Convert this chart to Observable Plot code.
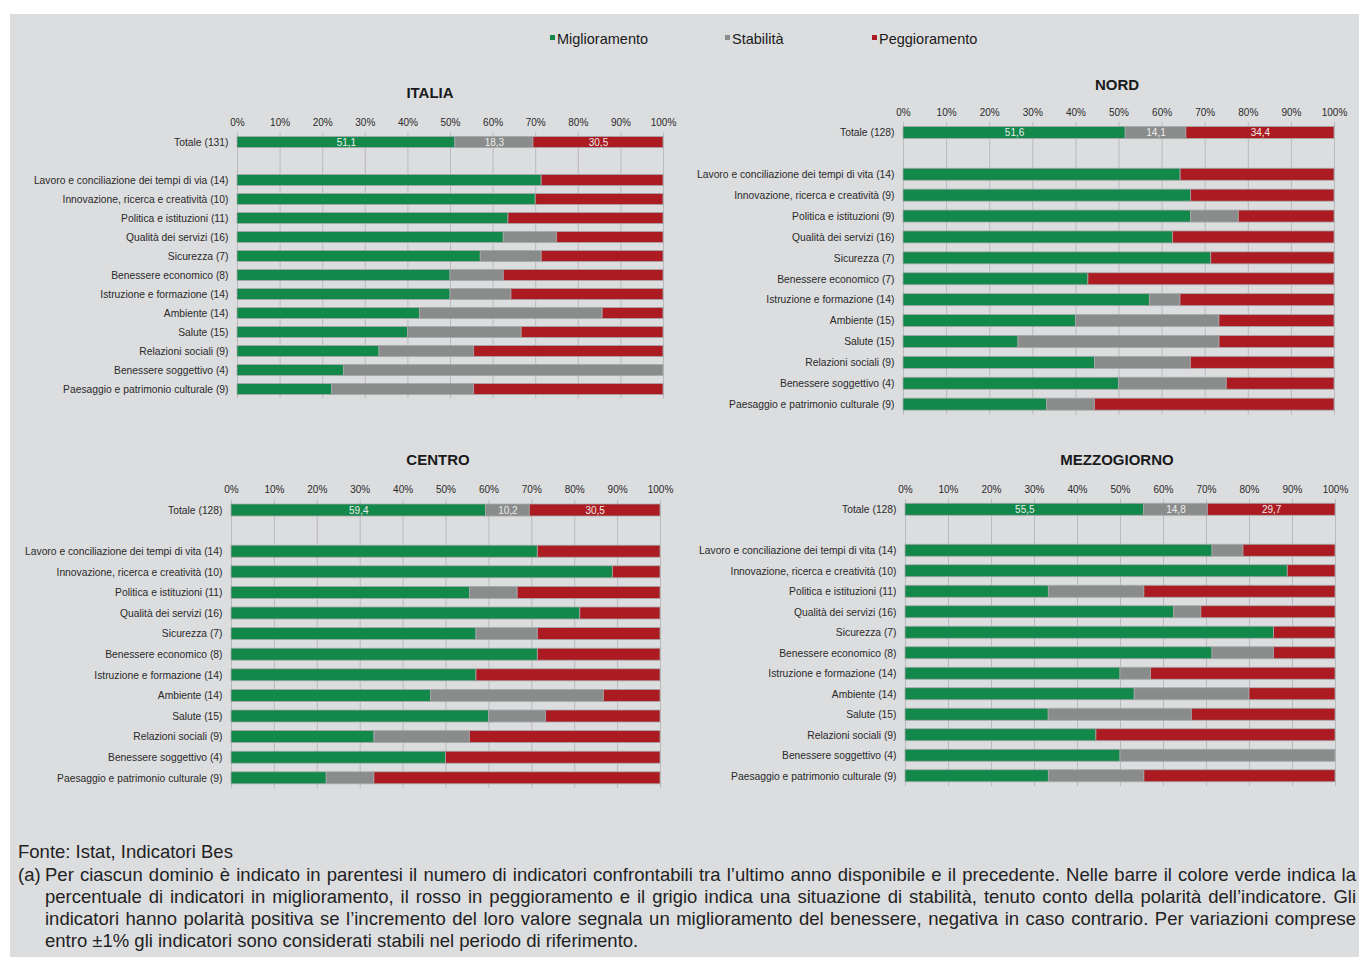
<!DOCTYPE html>
<html>
<head>
<meta charset="utf-8">
<script src="https://cdn.jsdelivr.net/npm/d3@7"></script>
<script src="https://cdn.jsdelivr.net/npm/@observablehq/plot@0.6"></script>
<style>
  html, body { margin: 0; padding: 0; background: #ffffff; }
  body { width: 1359px; height: 957px; position: relative; overflow: hidden; font-family: "Liberation Sans", Arial, sans-serif; }
  #panel { position: absolute; left: 10px; top: 14px; width: 1349px; height: 943px; background: #dcdddf; }
  .title { position: absolute; transform: translate(-50%, -50%); font-weight: bold; font-size: 15px; color: #1a1a1a; white-space: nowrap; }
  .legend { position: absolute; font-size: 14.5px; color: #1a1a1a; white-space: nowrap; transform: translateY(-50%); }
  .legend i { display: inline-block; width: 5px; height: 5px; margin-right: 2px; vertical-align: 4px; }
  .note { position: absolute; font-size: 18.5px; line-height: 22px; color: #222; white-space: nowrap; }
  .just { text-align: justify; text-align-last: justify; }
</style>
</head>
<body>
<div id="panel"></div>
<script>
// ---------- DATA ----------
const statuses = ["Miglioramento", "Stabilità", "Peggioramento"];
const statusColors = ["#12884a", "#8a8c8c", "#ab1b21"];
const tickLabels = ["0%", "10%", "20%", "30%", "40%", "50%", "60%", "70%", "80%", "90%", "100%"];

const italiaLabels = ["Totale (131)", "Lavoro e conciliazione dei tempi di via (14)", "Innovazione, ricerca e creatività (10)", "Politica e istituzioni (11)", "Qualità dei servizi (16)", "Sicurezza (7)", "Benessere economico (8)", "Istruzione e formazione (14)", "Ambiente (14)", "Salute (15)", "Relazioni sociali (9)", "Benessere soggettivo (4)", "Paesaggio e patrimonio culturale (9)"];
const italiaMiglioramento = [51.1, 71.4, 70.0, 63.6, 62.5, 57.1, 50.0, 50.0, 42.9, 40.0, 33.3, 25.0, 22.2];
const italiaStabilita     = [18.3, 0, 0, 0, 12.5, 14.3, 12.5, 14.3, 42.9, 26.7, 22.2, 75.0, 33.3];
const italiaPeggioramento = [30.5, 28.6, 30.0, 36.4, 25.0, 28.6, 37.5, 35.7, 14.3, 33.3, 44.4, 0, 44.4];

const nordLabels = ["Totale (128)", "Lavoro e conciliazione dei tempi di vita (14)", "Innovazione, ricerca e creatività (9)", "Politica e istituzioni (9)", "Qualità dei servizi (16)", "Sicurezza (7)", "Benessere economico (7)", "Istruzione e formazione (14)", "Ambiente (15)", "Salute (15)", "Relazioni sociali (9)", "Benessere soggettivo (4)", "Paesaggio e patrimonio culturale (9)"];
const nordMiglioramento = [51.6, 64.3, 66.7, 66.7, 62.5, 71.4, 42.9, 57.1, 40.0, 26.7, 44.4, 50.0, 33.3];
const nordStabilita     = [14.1, 0, 0, 11.1, 0, 0, 0, 7.1, 33.3, 46.7, 22.2, 25.0, 11.1];
const nordPeggioramento = [34.4, 35.7, 33.3, 22.2, 37.5, 28.6, 57.1, 35.7, 26.7, 26.7, 33.3, 25.0, 55.6];

const centroLabels = ["Totale (128)", "Lavoro e conciliazione dei tempi di vita (14)", "Innovazione, ricerca e creatività (10)", "Politica e istituzioni (11)", "Qualità dei servizi (16)", "Sicurezza (7)", "Benessere economico (8)", "Istruzione e formazione (14)", "Ambiente (14)", "Salute (15)", "Relazioni sociali (9)", "Benessere soggettivo (4)", "Paesaggio e patrimonio culturale (9)"];
const centroMiglioramento = [59.4, 71.4, 88.9, 55.6, 81.3, 57.1, 71.4, 57.1, 46.5, 60.0, 33.3, 50.0, 22.2];
const centroStabilita     = [10.2, 0, 0, 11.1, 0, 14.3, 0, 0, 40.3, 13.3, 22.2, 0, 11.1];
const centroPeggioramento = [30.5, 28.6, 11.1, 33.3, 18.7, 28.6, 28.6, 42.9, 13.2, 26.7, 44.4, 50.0, 66.7];

const mezzogiornoLabels = ["Totale (128)", "Lavoro e conciliazione dei tempi di vita (14)", "Innovazione, ricerca e creatività (10)", "Politica e istituzioni (11)", "Qualità dei servizi (16)", "Sicurezza (7)", "Benessere economico (8)", "Istruzione e formazione (14)", "Ambiente (14)", "Salute (15)", "Relazioni sociali (9)", "Benessere soggettivo (4)", "Paesaggio e patrimonio culturale (9)"];
const mezzogiornoMiglioramento = [55.5, 71.4, 88.9, 33.3, 62.5, 85.7, 71.4, 50.0, 53.3, 33.3, 44.4, 50.0, 33.3];
const mezzogiornoStabilita     = [14.8, 7.2, 0, 22.2, 6.3, 0, 14.3, 7.1, 26.7, 33.3, 0, 50.0, 22.2];
const mezzogiornoPeggioramento = [29.7, 21.4, 11.1, 44.4, 31.2, 14.3, 14.3, 42.9, 20.0, 33.4, 55.6, 0, 44.4];

const panelTitles = ["ITALIA", "NORD", "CENTRO", "MEZZOGIORNO"];

// ---------- LAYOUT (page pixels) ----------
const panels = [
  {title: panelTitles[0], labels: italiaLabels, series: [italiaMiglioramento, italiaStabilita, italiaPeggioramento],
   left: 0, top: 60, width: 680, height: 360, x0: 237, x1: 663, y0: 132.5, y1: 398.5, barH: 11, tx: 430, ty: 92},
  {title: panelTitles[1], labels: nordLabels, series: [nordMiglioramento, nordStabilita, nordPeggioramento],
   left: 680, top: 60, width: 679, height: 370, x0: 903, x1: 1334, y0: 122, y1: 414.6, barH: 12, tx: 1117, ty: 84},
  {title: panelTitles[2], labels: centroLabels, series: [centroMiglioramento, centroStabilita, centroPeggioramento],
   left: 0, top: 430, width: 680, height: 370, x0: 231, x1: 660, y0: 499.7, y1: 788.1, barH: 12, tx: 438, ty: 459},
  {title: panelTitles[3], labels: mezzogiornoLabels, series: [mezzogiornoMiglioramento, mezzogiornoStabilita, mezzogiornoPeggioramento],
   left: 680, top: 430, width: 679, height: 370, x0: 905, x1: 1335, y0: 499, y1: 786, barH: 12, tx: 1117, ty: 459}
];

const SPACER = " ";
const fontFamily = '"Liberation Sans", Arial, sans-serif';
const tickValues = tickLabels.map(t => parseFloat(t) / 100);
const fmtComma = v => v.toFixed(1).replace(".", ",");

for (const p of panels) {
  const rows = p.labels.flatMap((label, i) =>
    statuses.map((status, k) => ({label, status, value: p.series[k][i]}))
  ).filter(d => d.value > 0);
  const domainY = [p.labels[0], SPACER, ...p.labels.slice(1)];
  const n = domainY.length;
  const step = (p.y1 - p.y0) / n;
  const inset = (step - p.barH) / 2;
  const totRows = rows.filter(d => d.label === p.labels[0]);

  const chart = Plot.plot({
    width: p.width,
    height: p.height,
    marginLeft: p.x0 - p.left,
    marginRight: p.left + p.width - p.x1,
    marginTop: p.y0 - p.top,
    marginBottom: p.top + p.height - p.y1,
    style: {background: "transparent", fontFamily, fontSize: "10px", color: "#2a2a2a", overflow: "visible"},
    x: {domain: [0, 1], axis: null},
    y: {domain: domainY, padding: 0, round: false, axis: null},
    color: {domain: statuses, range: statusColors},
    marks: [
      Plot.gridX({ticks: tickValues, stroke: "#b9babd", strokeOpacity: 1, strokeWidth: 1}),
      Plot.barX(rows, Plot.stackX({x: "value", y: "label", fill: "status", offset: "normalize",
        insetTop: inset, insetBottom: inset, stroke: "#a7a8aa", strokeWidth: 0.8})),
      Plot.text(totRows, Plot.stackX({x: "value", y: "label", z: "status", offset: "normalize",
        text: d => fmtComma(d.value), fill: "#ececec", fontSize: 10})),
      Plot.axisX({anchor: "top", ticks: tickValues, tickFormat: (d, i) => tickLabels[i], tickSize: 0, tickPadding: 7, label: null, fontSize: 10}),
      Plot.axisY({tickSize: 0, tickPadding: 9, label: null, fontSize: 10.3, tickFormat: d => d === SPACER ? "" : d})
    ]
  });
  chart.style.position = "absolute";
  chart.style.left = p.left + "px";
  chart.style.top = p.top + "px";
  chart.style.maxWidth = "none";
  document.body.appendChild(chart);

  const t = document.createElement("div");
  t.className = "title";
  t.style.left = p.tx + "px";
  t.style.top = p.ty + "px";
  t.textContent = p.title;
  document.body.appendChild(t);
}

// ---------- LEGEND ----------
const legendX = [550, 725, 872];
statuses.forEach((s, i) => {
  const d = document.createElement("div");
  d.className = "legend";
  d.style.left = legendX[i] + "px";
  d.style.top = "39px";
  d.innerHTML = `<i style="background:${statusColors[i]}"></i>${s}`;
  document.body.appendChild(d);
});

// ---------- FOOTER ----------
const footerSource = "Fonte: Istat, Indicatori Bes";
const footerNoteLines = [
  "Per ciascun dominio è indicato in parentesi il numero di indicatori confrontabili tra l’ultimo anno disponibile e il precedente. Nelle barre il colore verde indica la",
  "percentuale di indicatori in miglioramento, il rosso in peggioramento e il grigio indica una situazione di stabilità, tenuto conto della polarità dell’indicatore. Gli",
  "indicatori hanno polarità positiva se l’incremento del loro valore segnala un miglioramento del benessere, negativa in caso contrario. Per variazioni comprese",
  "entro ±1% gli indicatori sono considerati stabili nel periodo di riferimento."
];
function addNote(text, left, top, width, justify) {
  const d = document.createElement("div");
  d.className = "note" + (justify ? " just" : "");
  d.style.left = left + "px";
  d.style.top = top + "px";
  if (width) d.style.width = width + "px";
  d.textContent = text;
  document.body.appendChild(d);
}
addNote(footerSource, 18, 841, null, false);
addNote("(a)", 18, 864, null, false);
footerNoteLines.forEach((line, i) => addNote(line, 45, 864 + 22 * i, 1311, i < footerNoteLines.length - 1));
</script>
</body>
</html>
